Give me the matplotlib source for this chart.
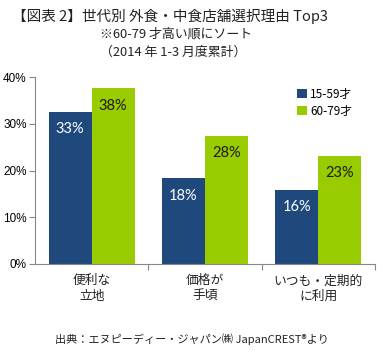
import matplotlib.pyplot as plt
import numpy as np

plt.rcParams['font.family'] = ['Noto Sans CJK JP', 'DejaVu Sans']

categories = ['便利な\n立地', '価格が\n手頃', 'いつも・定期的\nに利用']
series_names = ['15-59才', '60-79才']
young = [32.6, 18.3, 15.8]
senior = [37.6, 27.4, 23.1]
young_labels = ['33%', '18%', '16%']
senior_labels = ['38%', '28%', '23%']

navy = '#1F497D'
lime = '#99CC00'

fig = plt.figure(figsize=(3.84, 3.53), dpi=100)
ax = fig.add_axes([35 / 384, 1 - 264 / 353, 340 / 384, 187 / 353])

x = np.arange(len(categories))
w = 0.38
b1 = ax.bar(x - w / 2, young, w, color=navy, label=series_names[0])
b2 = ax.bar(x + w / 2, senior, w, color=lime, label=series_names[1])

for rect, txt in zip(b1, young_labels):
    ax.text(rect.get_x() + rect.get_width() / 2, rect.get_height() - 2.2, txt,
            ha='center', va='top', color='white', fontsize=10.5, family='Lato')
for rect, txt in zip(b2, senior_labels):
    ax.text(rect.get_x() + rect.get_width() / 2, rect.get_height() - 2.2, txt,
            ha='center', va='top', color='#1a1a1a', fontsize=10.5, family='Lato')

ax.set_xlim(-0.5, 2.5)
ax.set_ylim(0, 40)
ax.set_yticks([0, 10, 20, 30, 40])
ax.set_yticklabels(['0%', '10%', '20%', '30%', '40%'], family='Liberation Sans', fontsize=8.5)
ax.set_xticks([0.5, 1.5, 2.5])
ax.set_xticklabels([])
ax.tick_params(axis='y', length=4, color='#888888', pad=2)
ax.tick_params(axis='x', length=4, color='#888888', direction='out')
for s in ['top', 'right']:
    ax.spines[s].set_visible(False)
for s in ['left', 'bottom']:
    ax.spines[s].set_color('#888888')

for i, c in enumerate(categories):
    ax.text(i, -2.2, c, ha='center', va='top', fontsize=9.2, linespacing=1.25,
            color='#222222')

ax.legend(loc='upper left', bbox_to_anchor=(0.74, 1.0), frameon=False,
          handlelength=0.8, handleheight=0.8, handletextpad=0.3,
          labelspacing=0.35, prop={'size': 8.5})

fig.text(12 / 384, 1 - 16 / 353, '【図表 2】世代別 外食・中食店舗選択理由 Top3',
         fontsize=10.5, va='center', ha='left', color='#222222')
fig.text(100 / 384, 1 - 34 / 353, '※60-79 才高い順にソート',
         fontsize=9.3, va='center', ha='left', color='#222222')
fig.text(100 / 384, 1 - 52 / 353, '（2014 年 1-3 月度累計）',
         fontsize=9.3, va='center', ha='left', color='#222222')
fig.text(192 / 384, 1 - 339 / 353, '出典：エヌピーディー・ジャパン㈱ JapanCREST®より',
         fontsize=8, va='center', ha='center', color='#222222')

fig.savefig('out.png', dpi=100)
